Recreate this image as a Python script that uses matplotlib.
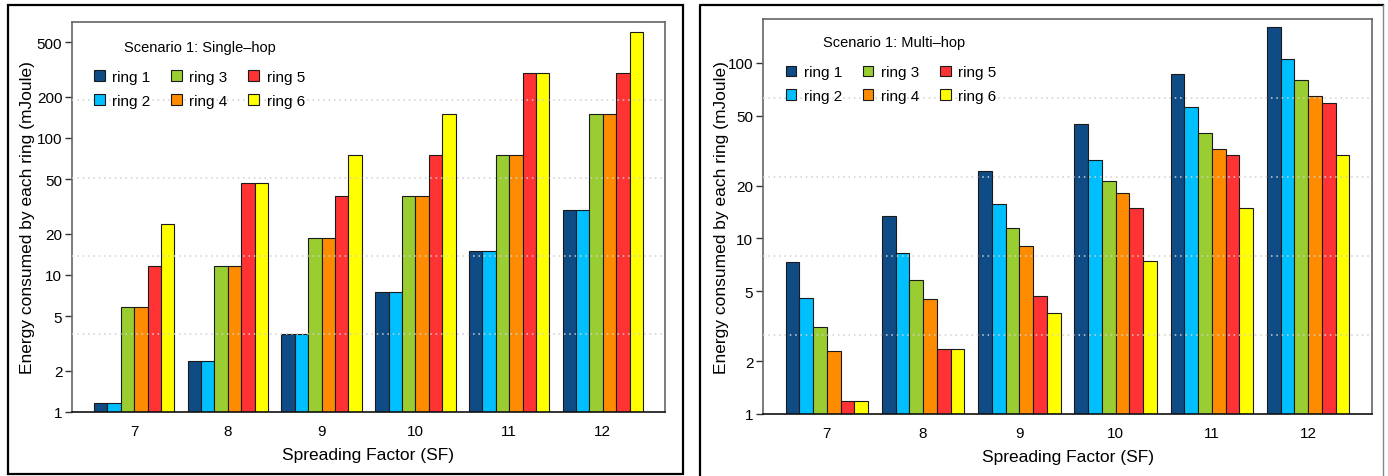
import matplotlib
matplotlib.use("Agg")
import matplotlib.pyplot as plt
import numpy as np
from matplotlib.patches import Patch

plt.rcParams["font.family"] = ["Liberation Sans", "DejaVu Sans"]

SF = ["7", "8", "9", "10", "11", "12"]
RINGS = ["ring 1", "ring 2", "ring 3", "ring 4", "ring 5", "ring 6"]
COLORS = ["#0f4c86", "#00bfff", "#9acd32", "#ff8c00", "#ff3333", "#ffff00"]

# rows = SF groups, columns = rings
single_hop = [
    [1.17, 1.17, 5.86, 5.86, 11.7, 23.4],
    [2.34, 2.34, 11.7, 11.7, 46.9, 46.9],
    [3.72, 3.72, 18.7, 18.7, 37.4, 74.5],
    [7.45, 7.45, 37.4, 37.4, 74.5, 149.0],
    [14.9, 14.9, 74.5, 74.5, 298.0, 298.0],
    [29.9, 29.9, 149.0, 149.0, 298.0, 596.0],
]
multi_hop = [
    [7.3, 4.56, 3.13, 2.28, 1.18, 1.18],
    [13.4, 8.3, 5.78, 4.5, 2.35, 2.35],
    [24.1, 15.7, 11.5, 9.06, 4.69, 3.76],
    [45.1, 28.1, 21.2, 18.1, 14.9, 7.47],
    [86.2, 56.1, 39.8, 32.4, 29.8, 14.9],
    [160.0, 105.0, 79.7, 64.6, 59.2, 29.9],
]


def draw_panel(ax, data, ymax, yticks, title, title_xy, leg_top, ylabel_x):
    data = np.asarray(data)
    n_groups, n_bars = data.shape
    for i in range(n_bars):
        x = 1 + 7 * np.arange(n_groups) + i
        # bars start at the bottom of the log axis (y = 1)
        ax.bar(x, data[:, i] - 1.0, width=1.0, bottom=1.0, align="edge",
               color=COLORS[i], edgecolor="#1a1a1a", linewidth=0.8, zorder=2)
    ax.set_yscale("log")
    ax.set_ylim(1, ymax)
    ax.set_xlim(-0.64, 43.64)

    # R grid(): 5 equal divisions of the log axis, drawn over the bars
    for k in range(1, 5):
        ax.axhline(10 ** (np.log10(ymax) * k / 5), color="#d0d0d0",
                   linestyle=(0, (1, 2.5)), linewidth=1.1, zorder=3)

    ax.set_yticks(yticks)
    ax.set_yticklabels([str(t) for t in yticks])
    ax.yaxis.set_minor_locator(matplotlib.ticker.NullLocator())
    ax.set_xticks(4 + 7 * np.arange(n_groups))
    ax.set_xticklabels(SF)
    ax.tick_params(axis="x", length=0, pad=9, labelsize=11)
    ax.tick_params(axis="y", length=5, width=1, labelsize=11, pad=2,
                   color="#333333")
    for side in ["top", "right", "left"]:
        ax.spines[side].set_color("#666666")
        ax.spines[side].set_linewidth(1.2)
    ax.spines["bottom"].set_color("#111111")
    ax.spines["bottom"].set_linewidth(1.2)

    ax.set_xlabel("Spreading Factor (SF)", fontsize=12.5, labelpad=6)
    ax.set_ylabel("Energy consumed by each ring (mJoule)", fontsize=12.5)
    ax.yaxis.set_label_coords(ylabel_x, 0.5)

    ax.text(title_xy[0], title_xy[1], title, transform=ax.transAxes,
            fontsize=10.5, ha="left", va="center")
    handles = [Patch(facecolor=c, edgecolor="#1a1a1a", linewidth=0.8)
               for c in COLORS]
    ax.legend(handles, RINGS, ncol=3, frameon=False, fontsize=11,
              loc="upper left", bbox_to_anchor=(0.037, leg_top),
              handlelength=0.7, handleheight=0.7, handletextpad=0.5,
              columnspacing=1.35, labelspacing=0.65, borderaxespad=0,
              borderpad=0)


fig = plt.figure(figsize=(13.88, 4.77), dpi=100)
ax1 = fig.add_axes([72 / 1388, 64 / 477, 593 / 1388, 390 / 477])
ax2 = fig.add_axes([763 / 1388, 62 / 477, 609 / 1388, 395 / 477])

draw_panel(ax1, single_hop, 700, [1, 2, 5, 10, 20, 50, 100, 200, 500],
           "Scenario 1: Single\u2013hop", (0.088, 0.936), 0.878, -0.062)
draw_panel(ax2, multi_hop, 178, [1, 2, 5, 10, 20, 50, 100],
           "Scenario 1: Multi\u2013hop", (0.099, 0.942), 0.883, -0.056)

# outer frames of the two stitched panels
W, H = 1388, 477
fig.add_artist(plt.Rectangle((8 / W, 1 - 475 / H), 675 / W, 469 / H,
                             transform=fig.transFigure, fill=False,
                             edgecolor="black", linewidth=1.6))
fig.add_artist(plt.Line2D([700 / W, 700 / W, 1383 / W], [0, 1 - 6 / H, 1 - 6 / H],
                          transform=fig.transFigure, color="black",
                          linewidth=1.6))
fig.add_artist(plt.Line2D([1383 / W, 1383 / W], [0, 1 - 6 / H],
                          transform=fig.transFigure, color="#888888",
                          linewidth=1.0))

fig.savefig("out.png", dpi=100, facecolor="white")
